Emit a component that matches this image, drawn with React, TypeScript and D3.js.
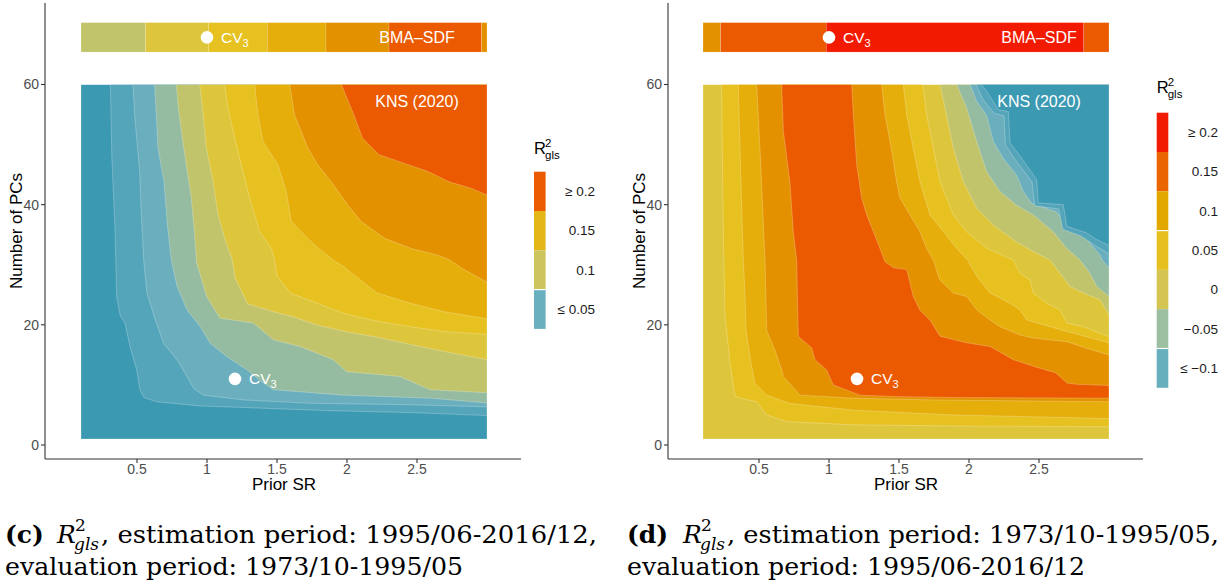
import React from 'react';
import * as d3 from 'd3';

type P = [number, number];

// ---------- axes ----------
const xTicks = [0.5, 1, 1.5, 2, 2.5];
const xTickLabels = ['0.5', '1', '1.5', '2', '2.5'];
const yTicks = [0, 20, 40, 60];

// Zissou-like band palette (lowest -> highest)
const bandColors = ['#3C99B2', '#55A5BA', '#6BAFBE', '#95BCA0', '#C2C46B', '#DEC63C', '#E6C11F', '#E5AE0B', '#E49100', '#EB5A00'];

// ---------- panel (c): contour boundaries, level k separates band k-1 / band k ----------
const leftLevel1: P[] = [[0.31, 60], [0.32, 48], [0.335, 40], [0.343, 35.8], [0.355, 24.7], [0.38, 21.5], [0.414, 20.3], [0.45, 16.4], [0.498, 12.5], [0.521, 9.2], [0.55, 7.9], [0.64, 7.2], [0.95, 6.5], [1.9, 5.7], [2.45, 5.4], [3.0, 4.9]];
const leftLevel2: P[] = [[0.471, 60], [0.483, 54.9], [0.519, 45.5], [0.531, 38.3], [0.548, 30.8], [0.571, 25.3], [0.631, 20.8], [0.69, 16.9], [0.786, 14.2], [0.857, 11.4], [0.905, 9.4], [0.976, 8.3], [1.262, 7.5], [1.738, 6.95], [2.452, 6.7], [3.0, 6.35]];
const leftLevel3: P[] = [[0.626, 60], [0.638, 54.9], [0.65, 49.4], [0.693, 43.8], [0.717, 36.6], [0.745, 30.8], [0.786, 26.4], [0.857, 22.5], [0.952, 19.7], [1.024, 16.9], [1.143, 14.7], [1.286, 12.5], [1.405, 10.3], [1.474, 9.2], [1.976, 8.3], [2.593, 7.8], [3.0, 7.0]];
const leftLevel4: P[] = [[0.781, 60], [0.793, 56.6], [0.817, 52.2], [0.852, 46.6], [0.888, 41.1], [0.91, 35.5], [0.926, 30.3], [0.998, 24.7], [1.093, 21.1], [1.331, 20.3], [1.474, 17.5], [1.664, 16.4], [1.902, 14.2], [1.998, 12.2], [2.379, 11.4], [2.593, 9.2], [3.0, 8.7]];
const leftLevel5: P[] = [[0.948, 60], [0.972, 55], [0.995, 49.4], [1.043, 43.8], [1.079, 38.3], [1.126, 34.4], [1.18, 30.8], [1.2, 27.8], [1.29, 23.5], [1.47, 22.2], [1.62, 21.3], [1.78, 20.0], [2.0, 18.8], [2.2, 18.0], [2.4, 17.0], [2.62, 15.9], [3.0, 14.2]];
const leftLevel6: P[] = [[1.126, 60], [1.15, 56], [1.198, 51.1], [1.245, 46.6], [1.305, 41.1], [1.376, 35.5], [1.46, 32.7], [1.483, 30.8], [1.5, 28.1], [1.595, 25.3], [1.786, 23.6], [1.976, 21.9], [2.214, 20.6], [2.452, 19.7], [2.69, 18.9], [3.0, 18.4]];
const leftLevel7: P[] = [[1.341, 60], [1.364, 54.9], [1.4, 50.5], [1.507, 46.6], [1.566, 42.2], [1.602, 37.2], [1.745, 33.8], [1.9, 30.8], [1.976, 29.7], [2.095, 27.5], [2.214, 25.3], [2.452, 23.6], [2.69, 22.2], [3.0, 21.0]];
const leftLevel8: P[] = [[1.591, 60], [1.626, 54.9], [1.721, 49.4], [1.793, 46.6], [1.888, 43.8], [2.007, 39.9], [2.102, 37.2], [2.269, 34.4], [2.459, 32.7], [2.65, 31.6], [2.733, 30.8], [2.836, 29.2], [3.0, 27.1]];
const leftLevel9: P[] = [[1.96, 60], [2.05, 54.9], [2.11, 51.1], [2.23, 48.3], [2.37, 47.2], [2.58, 45.5], [2.73, 43.8], [2.89, 42.7], [3.0, 41.6]];
const leftLevels = [leftLevel1, leftLevel2, leftLevel3, leftLevel4, leftLevel5, leftLevel6, leftLevel7, leftLevel8, leftLevel9];

// ---------- panel (d): rising (left/bottom) and falling (upper right) boundaries ----------
const rightRise6: P[] = [[0.233, 60], [0.24, 45], [0.245, 35.8], [0.257, 21.9], [0.293, 13.6], [0.329, 8.1], [0.4, 7.6], [0.483, 7.2], [0.555, 5.0], [0.698, 3.9], [1.174, 3.35], [2.0, 3.15], [3.0, 3.05]];
const rightRise7: P[] = [[0.352, 60], [0.364, 49.4], [0.388, 30.8], [0.4, 25], [0.407, 19.2], [0.44, 14], [0.471, 10.3], [0.555, 8.3], [0.721, 6.9], [1.174, 5.8], [1.888, 5.0], [3.0, 4.4]];
const rightRise8: P[] = [[0.483, 60], [0.507, 49.4], [0.543, 30.8], [0.555, 19], [0.614, 15.8], [0.662, 12.5], [0.674, 11.4], [0.793, 8.3], [1.174, 7.8], [1.745, 7.5], [3.0, 7.2]];
const rightRise9: P[] = [[0.662, 60], [0.674, 52.2], [0.721, 43.8], [0.745, 35.5], [0.769, 30.8], [0.781, 18.05], [0.876, 16.2], [0.9, 14.2], [0.983, 12.5], [1.031, 10.0], [1.221, 8.3], [1.507, 8.05], [1.888, 7.9], [3.0, 7.8]];
const rightFall9: P[] = [[1.162, 60], [1.174, 54.9], [1.198, 46.6], [1.233, 41.1], [1.269, 38.3], [1.317, 35.5], [1.364, 32.7], [1.4, 30.5], [1.46, 29.5], [1.555, 29.2], [1.602, 24.7], [1.65, 22.4], [1.721, 20.8], [1.793, 18.1], [1.983, 17.0], [2.15, 16.4], [2.317, 14.2], [2.46, 13.1], [2.62, 12.0], [2.7, 10.3], [2.77, 10.1], [3.0, 9.9]];
const rightFall8: P[] = [[1.376, 60], [1.4, 54.9], [1.445, 49.4], [1.483, 43.8], [1.507, 41.1], [1.579, 38.3], [1.65, 35.5], [1.698, 32.7], [1.745, 30.8], [1.79, 27.5], [1.888, 25.3], [1.983, 24.7], [2.055, 22.5], [2.15, 20.8], [2.221, 19.7], [2.364, 18.3], [2.46, 17.8], [2.698, 17.2], [2.85, 16.0], [3.0, 15.0]];
const rightFall7: P[] = [[1.531, 60], [1.555, 54.9], [1.602, 49.4], [1.65, 43.8], [1.721, 38.3], [1.817, 35.5], [1.912, 32.7], [1.99, 30.8], [2.055, 28.1], [2.15, 25.3], [2.293, 23.6], [2.364, 22.5], [2.412, 20.8], [2.579, 19.7], [2.698, 18.9], [3.0, 17.0]];
const rightFall6: P[] = [[1.669, 60], [1.698, 54.9], [1.745, 49.4], [1.793, 43.8], [1.888, 38.3], [1.983, 35.5], [2.13, 32.7], [2.317, 30.8], [2.364, 28.6], [2.436, 27.5], [2.46, 25.3], [2.555, 23.6], [2.65, 22.5], [2.698, 20.3], [2.817, 19.7], [3.0, 18.0]];
const rightFall5: P[] = [[1.793, 60], [1.84, 54.9], [1.888, 49.4], [1.96, 43.8], [2.055, 39.4], [2.174, 36.6], [2.34, 33.8], [2.46, 32.2], [2.579, 30.8], [2.65, 28.6], [2.721, 26.4], [2.817, 25.3], [2.936, 24.2], [3.0, 21.7]];
const rightFall4: P[] = [[1.912, 60], [1.983, 56.1], [2.055, 50.5], [2.126, 45.5], [2.221, 42.2], [2.34, 39.9], [2.46, 38.3], [2.602, 35.5], [2.698, 32.7], [2.793, 30.8], [2.864, 28.6], [2.912, 26.4], [3.0, 24.7]];
const rightFall3: P[] = [[2.007, 60], [2.055, 57.2], [2.126, 54.9], [2.174, 50.5], [2.245, 47.7], [2.34, 44.9], [2.388, 42.2], [2.45, 40.2], [2.626, 38.8], [2.698, 36.6], [2.817, 34.9], [2.936, 31.6], [2.95, 30.8], [3.0, 29.5]];
const rightFall2: P[] = [[2.05, 60], [2.1, 57.5], [2.18, 55.2], [2.25, 54.8], [2.26, 50], [2.33, 47.5], [2.45, 43.8], [2.47, 39.8], [2.64, 39.3], [2.67, 35.9], [2.8, 34.8], [2.9, 33.2], [3.0, 31.8]];
const rightFall1: P[] = [[2.09, 60], [2.126, 58.9], [2.21, 55.8], [2.281, 55.5], [2.293, 50.3], [2.364, 48.1], [2.483, 44.2], [2.495, 40.3], [2.674, 40.0], [2.698, 36.4], [2.84, 35.3], [2.912, 34.2], [3.0, 33.2]];
const rightRises = [rightRise6, rightRise7, rightRise8, rightRise9];
const rightFallsHigh = [rightFall6, rightFall7, rightFall8, rightFall9];
const rightFallsLow = [rightFall5, rightFall4, rightFall3, rightFall2, rightFall1];

// ---------- top strips (BMA-SDF) ----------
const barYRange: P = [65.4, 70.3];
const leftBarBreaks = [0.1, 0.56, 1.01, 1.43, 1.85, 2.3, 2.96, 3.0];
const leftBarColors = ['#C2C46B', '#DEC63C', '#E6C11F', '#E5AE0B', '#E49100', '#EB5A00', '#E49100'];
const rightBarBreaks = [0.1, 0.225, 0.98, 2.82, 3.0];
const rightBarColors = ['#E49100', '#EB5A00', '#F21A00', '#EB5A00'];

// ---------- annotations ----------
const cvMain: P = [1.2, 11];
const cvBarX = 1.0;
const labelX = 2.5;
const knsY = 57.2;

// ---------- legends ----------
const leftLegendLabels = ['≥ 0.2', '0.15', '0.1', '≤ 0.05'];
const leftLegendColors = ['#EB5A00', '#E3B616', '#CCC45C', '#6AAFBE'];
const leftLegendSeparators = [3];
const rightLegendLabels = ['≥ 0.2', '0.15', '0.1', '0.05', '0', '−0.05', '≤ −0.1'];
const rightLegendColors = ['#F21A00', '#EA6500', '#E3A800', '#E6C01F', '#D4C552', '#9BBFA0', '#68AFBE'];
const rightLegendSeparators = [3, 6];

const SANS = "Liberation Sans, Arimo, Arial, Helvetica, sans-serif";
const SERIF = "DejaVu Serif, serif";

type Region = { pts: P[]; color: string };

function Panel(props: {
  id: string;
  x: d3.ScaleLinear<number, number>;
  y: d3.ScaleLinear<number, number>;
  axisX: number;
  axisRight: number;
  regions: Region[];
  barBreaks: number[];
  barColors: string[];
  yTitleX: number;
}) {
  const { id, x, y, axisX, axisRight, regions, barBreaks, barColors, yTitleX } = props;
  const line = d3.line<P>().x((d) => x(d[0])).y((d) => y(d[1]));
  const axisBottom = 459;
  const axisTop = 3;
  const x0 = x(0.1), x1 = x(3.0), yTop = y(60), yBot = y(1);
  const barMid = (barYRange[0] + barYRange[1]) / 2;
  const strokeC = 'rgba(255,255,255,0.35)';
  return (
    <g style={{ fontFamily: SANS }}>
      <defs>
        <clipPath id={id}>
          <rect x={x0} y={yTop} width={x1 - x0} height={yBot - yTop} />
        </clipPath>
      </defs>
      <g clipPath={`url(#${id})`}>
        {regions.map((r, i) => (
          <path key={i} d={line(r.pts) + 'Z'} fill={r.color} stroke={strokeC} strokeWidth={0.7} />
        ))}
      </g>
      {barColors.map((c, i) => (
        <rect key={i} x={x(barBreaks[i])} y={y(barYRange[1])} width={x(barBreaks[i + 1]) - x(barBreaks[i])}
          height={y(barYRange[0]) - y(barYRange[1])} fill={c} stroke={strokeC} strokeWidth={0.5} />
      ))}
      <circle cx={x(cvBarX)} cy={y(barMid)} r={6.3} fill="#fff" />
      <text x={x(cvBarX) + 14} y={y(barMid) + 5.5} fill="#fff" fontSize={15.5}>
        CV<tspan fontSize={11} dy={4}>3</tspan>
      </text>
      <text x={x(labelX)} y={y(barMid) + 5.5} fill="#fff" fontSize={16} textAnchor="middle">BMA–SDF</text>
      <text x={x(labelX)} y={y(knsY) + 5.5} fill="#fff" fontSize={16} textAnchor="middle">KNS (2020)</text>
      <circle cx={x(cvMain[0])} cy={y(cvMain[1])} r={6.3} fill="#fff" />
      <text x={x(cvMain[0]) + 14} y={y(cvMain[1]) + 5.5} fill="#fff" fontSize={15.5}>
        CV<tspan fontSize={11} dy={4}>3</tspan>
      </text>
      <line x1={axisX} x2={axisX} y1={axisTop} y2={axisBottom} stroke="#333" strokeWidth={1.1} />
      <line x1={axisX} x2={axisRight} y1={axisBottom} y2={axisBottom} stroke="#333" strokeWidth={1.1} />
      {yTicks.map((t) => (
        <g key={t}>
          <line x1={axisX - 4} x2={axisX} y1={y(t)} y2={y(t)} stroke="#333" strokeWidth={1.1} />
          <text x={axisX - 6} y={y(t)} dy="0.35em" textAnchor="end" fontSize={14} fill="#4D4D4D">{t}</text>
        </g>
      ))}
      {xTicks.map((t, i) => (
        <g key={t}>
          <line x1={x(t)} x2={x(t)} y1={axisBottom} y2={axisBottom + 4} stroke="#333" strokeWidth={1.1} />
          <text x={x(t)} y={473.5} textAnchor="middle" fontSize={14} fill="#4D4D4D">{xTickLabels[i]}</text>
        </g>
      ))}
      <text x={(x0 + x1) / 2} y={490} textAnchor="middle" fontSize={17} fill="#000">Prior SR</text>
      <text transform={`translate(${yTitleX},231) rotate(-90)`} textAnchor="middle" fontSize={17} fill="#000">Number of PCs</text>
    </g>
  );
}

function Legend(props: { x: number; top: number; labelRight: number; titleBase: number; labels: string[]; colors: string[]; seps: number[] }) {
  const { x, top, labelRight, titleBase, labels, colors, seps } = props;
  const h = 39.3;
  const w = 11.6;
  const band = d3.scaleBand<number>().domain(d3.range(labels.length)).range([top, top + h * labels.length]);
  return (
    <g style={{ fontFamily: SANS }}>
      <text x={x} y={titleBase} fontSize={16.5} fill="#000">
        R<tspan x={x + 11} dy={-7.5} fontSize={11.5}>2</tspan>
        <tspan x={x + 11} dy={12} fontSize={11.5}>gls</tspan>
      </text>
      {labels.map((l, i) => (
        <g key={i}>
          <rect x={x} y={band(i)!} width={w} height={band.bandwidth()} fill={colors[i]} />
          <text x={labelRight} y={band(i)! + band.bandwidth() / 2} dy="0.35em" textAnchor="end" fontSize={13.5} fill="#1A1A1A">{l}</text>
        </g>
      ))}
      {seps.map((s) => (
        <line key={s} x1={x} x2={x + w} y1={band(s)!} y2={band(s)!} stroke="#fff" strokeWidth={1.2} />
      ))}
    </g>
  );
}

function Caption(props: { x: number; tag: string; tagW: number; est: string; evalp: string }) {
  const { x, tag, tagW, est, evalp } = props;
  const b1 = 543, b2 = 575, fs = 25;
  const restX = x + tagW + 52;
  return (
    <g style={{ fontFamily: SERIF }} fill="#000">
      <text y={b1} fontSize={fs}>
        <tspan x={x} fontWeight="bold">{tag}</tspan>
        <tspan x={x + tagW + 8} fontStyle="italic">R</tspan>
        <tspan x={x + tagW + 26} dy={-12} fontSize={17}>2</tspan>
        <tspan x={x + tagW + 25} dy={19} fontSize={17} fontStyle="italic">gls</tspan>
        <tspan x={restX} dy={-7} textLength={x + 592 - restX} lengthAdjust="spacingAndGlyphs">{`, estimation period: ${est},`}</tspan>
      </text>
      <text x={x} y={b2} fontSize={fs} textLength={458} lengthAdjust="spacingAndGlyphs">{`evaluation period: ${evalp}`}</text>
    </g>
  );
}

export default function App() {
  const y = d3.scaleLinear().domain([0, 60]).range([445, 84.5]);
  const xL = d3.scaleLinear().domain([0, 3]).range([67, 487]);
  const xR = d3.scaleLinear().domain([0, 3]).range([689, 1109]);

  const baseRect: P[] = [[0.1, 1], [0.1, 60], [3.0, 60], [3.0, 1]];
  const leftRegions: Region[] = [{ pts: baseRect, color: bandColors[0] }];
  leftLevels.forEach((lv, i) => leftRegions.push({ pts: [...lv, [3.0, 60]], color: bandColors[i + 1] }));

  const rightRegions: Region[] = [{ pts: baseRect, color: bandColors[5] }];
  rightRises.forEach((r, i) => rightRegions.push({ pts: [...r, ...rightFallsHigh[i].slice().reverse()], color: bandColors[6 + i] }));
  rightFallsLow.forEach((f, i) => rightRegions.push({ pts: [...f, [3.0, 60]], color: bandColors[4 - i] }));

  return (
    <svg width={1229} height={586} style={{ position: 'absolute', left: 0, top: 0, background: '#fff' }}>
      <rect width={1229} height={586} fill="#fff" />
      <Panel id="clipL" x={xL} y={y} axisX={45} axisRight={521} regions={leftRegions} barBreaks={leftBarBreaks} barColors={leftBarColors} yTitleX={22} />
      <Panel id="clipR" x={xR} y={y} axisX={668} axisRight={1143} regions={rightRegions} barBreaks={rightBarBreaks} barColors={rightBarColors} yTitleX={645} />
      <Legend x={534} top={171.7} labelRight={595} titleBase={154} labels={leftLegendLabels} colors={leftLegendColors} seps={leftLegendSeparators} />
      <Legend x={1156.7} top={112.7} labelRight={1218} titleBase={93.3} labels={rightLegendLabels} colors={rightLegendColors} seps={rightLegendSeparators} />
      <Caption x={5} tag="(c)" tagW={44} est="1995/06-2016/12" evalp="1973/10-1995/05" />
      <Caption x={627} tag="(d)" tagW={48} est="1973/10-1995/05" evalp="1995/06-2016/12" />
    </svg>
  );
}
